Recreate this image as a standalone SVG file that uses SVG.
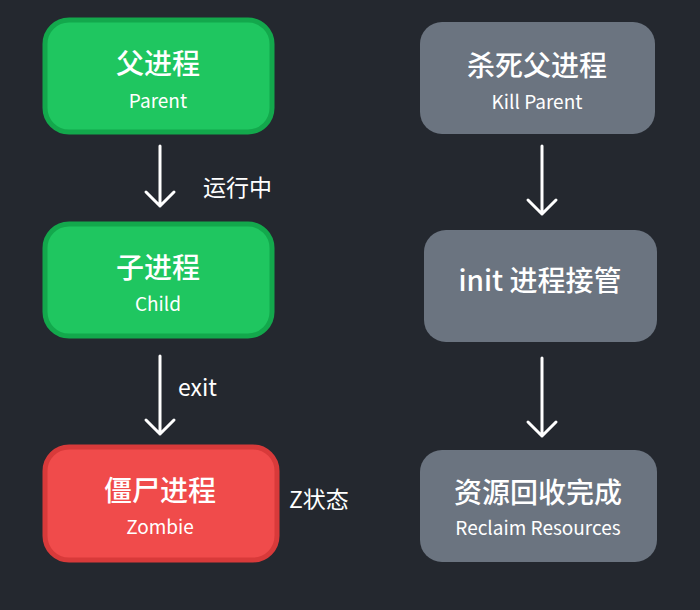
<svg xmlns="http://www.w3.org/2000/svg" width="700" height="610" viewBox="0 0 700 610">
<style>
.t{font-family:"Noto Sans CJK SC","Noto Sans",sans-serif;fill:#fff;text-anchor:middle}
.big{font-size:28px;font-weight:500}
.sm{font-size:19px}
.lb{font-family:"Noto Sans CJK SC","Noto Sans",sans-serif;fill:#fff;font-size:23px}
.g{fill:#1fc660;stroke:#13a84c;stroke-width:5}
.r{fill:#f04b4b;stroke:#d83a3a;stroke-width:5}
.k{fill:#6b7480}
.a{stroke:#fff;stroke-width:3;fill:none;stroke-linecap:round;stroke-linejoin:round}
</style>
<rect width="700" height="610" fill="#24282f"/>
<g id="n1"><rect class="g" x="45" y="20" width="227" height="112" rx="24"/><text class="t big" x="158" y="74">父进程</text><text class="t sm" x="158" y="108">Parent</text></g>
<g id="n2"><rect class="g" x="45" y="224" width="227" height="112" rx="24"/><text class="t big" x="158" y="278">子进程</text><text class="t sm" x="158" y="311">Child</text></g>
<g id="n3"><rect class="r" x="45" y="447" width="232" height="113" rx="24"/><text class="t big" x="160" y="501">僵尸进程</text><text class="t sm" x="160" y="534">Zombie</text></g>
<g id="n4"><rect class="k" x="420" y="22" width="235" height="112" rx="22"/><text class="t big" x="537" y="76">杀死父进程</text><text class="t sm" x="537" y="109">Kill Parent</text></g>
<g id="n5"><rect class="k" x="424" y="230" width="233" height="112" rx="22"/><text class="t big" x="540" y="291">init 进程接管</text></g>
<g id="n6"><rect class="k" x="420" y="450" width="237" height="112" rx="22"/><text class="t big" x="538" y="503">资源回收完成</text><text class="t sm" x="538" y="535">Reclaim Resources</text></g>
<g id="connectors">
<path class="a" d="M160 146V206M146 192L160 206L174 192"/>
<path class="a" d="M160 356V434M146 420L160 434L174 420"/>
<path class="a" d="M542 146V214M528 200L542 214L556 200"/>
<path class="a" d="M542 358V436M528 422L542 436L556 422"/>
<text class="lb" x="203" y="196">运行中</text>
<text class="lb" x="178" y="396">exit</text>
<text class="lb" x="289" y="508">Z状态</text>
</g>
</svg>
